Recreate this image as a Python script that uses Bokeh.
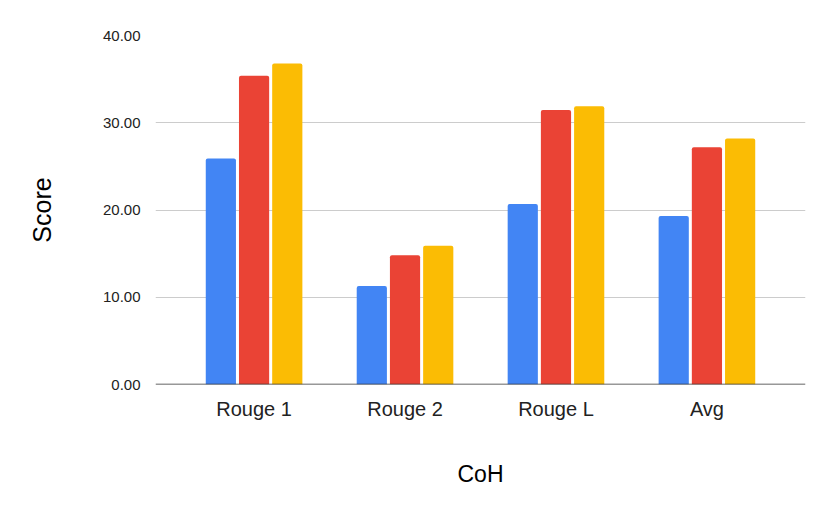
from bokeh.plotting import figure
from bokeh.models import ColumnDataSource, FactorRange, Range1d, NumeralTickFormatter, SingleIntervalTicker, Span
from bokeh.transform import dodge
from bokeh.embed import file_html
from bokeh.resources import INLINE

categories = ["Rouge 1", "Rouge 2", "Rouge L", "Avg"]
series_a = [25.9, 11.3, 20.7, 19.3]
series_b = [35.4, 14.8, 31.45, 27.2]
series_c = [36.8, 15.9, 31.9, 28.2]
colors = ["#4285F4", "#EA4335", "#FBBC04"]

src = ColumnDataSource(dict(cat=categories, a=series_a, b=series_b, c=series_c))

FONT = "Liberation Sans"

p = figure(
    x_range=FactorRange(factors=categories, range_padding=0.153, range_padding_units="absolute"),
    y_range=Range1d(0, 40),
    width=814, height=498,
    output_backend="svg", toolbar_location=None,
    min_border_left=155, min_border_right=9, min_border_top=35, min_border_bottom=114,
)

for key, off, col in zip(["a", "b", "c"], [-0.22, 0.0, 0.22], colors):
    p.vbar(x=dodge("cat", off, range=p.x_range), top=key, width=0.2, source=src,
           color=col, line_color=None, border_radius=(2, 2, 0, 0))

p.outline_line_color = None
p.background_fill_color = "white"
p.border_fill_color = "white"

p.xgrid.grid_line_color = None
p.ygrid.grid_line_color = "#cccccc"
p.ygrid.grid_line_width = 1
p.yaxis.ticker = SingleIntervalTicker(interval=10)
p.yaxis.formatter = NumeralTickFormatter(format="0.00")

for ax in (p.xaxis, p.yaxis):
    ax.axis_line_color = None
    ax.major_tick_line_color = None
    ax.minor_tick_line_color = None
    ax.major_tick_out = 0
    ax.major_tick_in = 0
    ax.minor_tick_out = 0
    ax.major_label_text_font = FONT
    ax.axis_label_text_font = FONT
    ax.axis_label_text_font_style = "normal"
    ax.axis_label_text_color = "#000000"
    ax.major_label_text_color = "#222222"

p.yaxis.major_label_text_font_size = "15px"
p.yaxis.major_label_standoff = 15
p.yaxis.axis_label = "Score"
p.yaxis.axis_label_text_font_size = "25px"
p.yaxis.axis_label_standoff = 44

p.xaxis.major_label_text_font_size = "20px"
p.xaxis.major_label_standoff = 13
p.xaxis.axis_label = "CoH"
p.xaxis.axis_label_text_font_size = "23px"
p.xaxis.axis_label_standoff = 38

base = Span(location=0, dimension="width", line_color="#333333", line_width=1.5)
p.add_layout(base)

open("out.html", "w").write(file_html(p, INLINE))
